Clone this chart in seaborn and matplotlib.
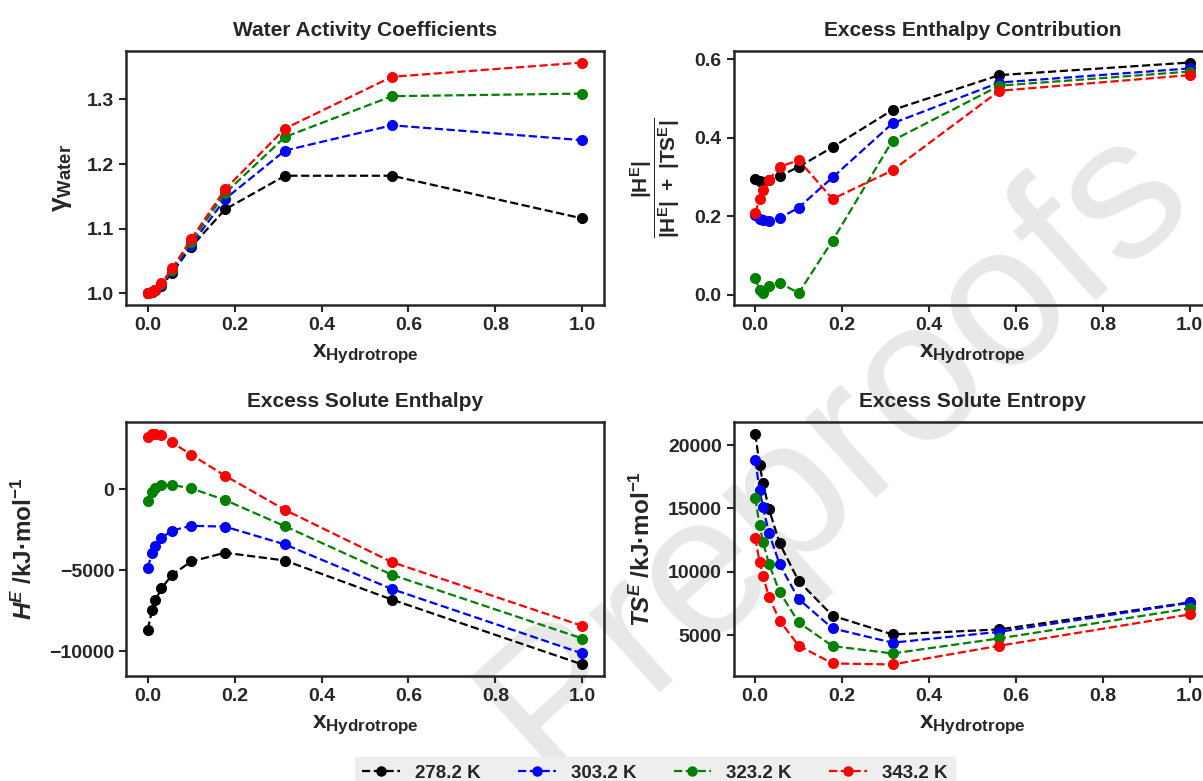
import matplotlib
matplotlib.use("Agg")
import matplotlib.pyplot as plt
from matplotlib.lines import Line2D
import seaborn as sns
import pandas as pd

x_hyd = [0.0, 0.01, 0.0178, 0.0316, 0.0562, 0.1, 0.178, 0.316, 0.562, 1.0]
temps = ["278.2 K", "303.2 K", "323.2 K", "343.2 K"]
colors = ["black", "blue", "green", "red"]

gamma_278 = [1.000, 1.002, 1.005, 1.012, 1.032, 1.072, 1.130, 1.182, 1.182, 1.116]
gamma_303 = [1.000, 1.002, 1.005, 1.013, 1.034, 1.075, 1.146, 1.221, 1.260, 1.237]
gamma_323 = [1.000, 1.003, 1.006, 1.014, 1.036, 1.080, 1.155, 1.242, 1.305, 1.309]
gamma_343 = [1.000, 1.003, 1.006, 1.0155, 1.0386, 1.084, 1.161, 1.255, 1.335, 1.357]

frac_278 = [0.295, 0.289, 0.288, 0.292, 0.302, 0.326, 0.376, 0.471, 0.560, 0.592]
frac_303 = [0.203, 0.193, 0.190, 0.188, 0.195, 0.222, 0.299, 0.437, 0.541, 0.577]
frac_323 = [0.043, 0.011, 0.003, 0.021, 0.030, 0.004, 0.138, 0.393, 0.533, 0.569]
frac_343 = [0.208, 0.244, 0.266, 0.293, 0.326, 0.343, 0.244, 0.317, 0.520, 0.560]

he_278 = [-8650, -7460, -6840, -6110, -5270, -4450, -3910, -4390, -6800, -10800]
he_303 = [-4840, -3930, -3500, -2990, -2540, -2250, -2300, -3400, -6150, -10120]
he_323 = [-720, -180, 80, 250, 270, 60, -660, -2280, -5270, -9200]
he_343 = [3240, 3400, 3440, 3320, 2890, 2130, 840, -1270, -4490, -8420]

tse_278 = [20920, 18470, 17030, 14950, 12240, 9260, 6530, 5050, 5450, 7580]
tse_303 = [18820, 16500, 15080, 13080, 10580, 7840, 5530, 4400, 5260, 7550]
tse_323 = [15840, 13680, 12370, 10610, 8400, 6000, 4130, 3550, 4740, 7110]
tse_343 = [12680, 10790, 9660, 8030, 6130, 4160, 2760, 2680, 4160, 6630]

frac_ticks = [0.0, 0.2, 0.4, 0.6]
he_ticks = [-10000, -5000, 0]
x_ticks = [0.0, 0.2, 0.4, 0.6, 0.8, 1.0]

rows = []
series = {
    "gamma": [gamma_278, gamma_303, gamma_323, gamma_343],
    "frac": [frac_278, frac_303, frac_323, frac_343],
    "he": [he_278, he_303, he_323, he_343],
    "tse": [tse_278, tse_303, tse_323, tse_343],
}
for i, t in enumerate(temps):
    for j, x in enumerate(x_hyd):
        rows.append({"x": x, "T": t,
                     "gamma": series["gamma"][i][j], "frac": series["frac"][i][j],
                     "he": series["he"][i][j], "tse": series["tse"][i][j]})
df = pd.DataFrame(rows)

sns.set_style("ticks")
plt.rcParams["font.family"] = ["Liberation Sans", "DejaVu Sans"]
plt.rcParams["font.weight"] = "bold"
plt.rcParams["axes.titleweight"] = "bold"
plt.rcParams["axes.labelweight"] = "bold"
plt.rcParams["mathtext.fontset"] = "custom"
plt.rcParams["mathtext.rm"] = "Liberation Sans:bold"
plt.rcParams["mathtext.bf"] = "Liberation Sans:bold"
plt.rcParams["mathtext.it"] = "Liberation Sans:italic:bold"
plt.rcParams["mathtext.bfit"] = "Liberation Sans:italic:bold"

W, H = 1203, 781
fig = plt.figure(figsize=(W / 100, H / 100), dpi=100)

# watermark behind everything
fig.text(0.695, 0.425, "Preproofs", rotation=42, fontsize=145, color="#e8e8e8",
         ha="center", va="center", fontweight="normal", zorder=-1)

def box(l, r, t, b):
    return [l / W, 1 - b / H, (r - l) / W, (b - t) / H]

ax1 = fig.add_axes(box(126, 604, 51, 305))
ax2 = fig.add_axes(box(733.5, 1211.5, 51, 305))
ax3 = fig.add_axes(box(126, 604, 422, 676))
ax4 = fig.add_axes(box(733.5, 1211.5, 422, 676))

panels = [
    (ax1, "gamma", "Water Activity Coefficients", r"$\mathbf{\gamma_{Water}}$", 19),
    (ax2, "frac", "Excess Enthalpy Contribution",
     r"$\mathbf{\dfrac{|H^E|}{|H^E|\ +\ |TS^E|}}$", 15),
    (ax3, "he", "Excess Solute Enthalpy", r"$\mathbfit{H^E}$ /kJ·mol$^{\mathbf{-1}}$", 17.5),
    (ax4, "tse", "Excess Solute Entropy", r"$\mathbfit{TS^E}$ /kJ·mol$^{\mathbf{-1}}$", 17.5),
]

for ax, col, title, ylab, yfs in panels:
    ax.set_facecolor("none")
    sns.lineplot(data=df, x="x", y=col, hue="T", palette=colors, ax=ax,
                 marker="o", linestyle="--", linewidth=1.6, markersize=8,
                 markeredgewidth=0, legend=False, errorbar=None)
    ax.set_title(title, fontsize=15, pad=11)
    ax.set_xlabel(r"$\mathbf{x_{Hydrotrope}}$", fontsize=17.5, labelpad=6)
    ax.set_ylabel(ylab, fontsize=yfs, labelpad=9)
    ax.set_xticks(x_ticks)
    ax.tick_params(labelsize=14, width=1.5, length=5, direction="out")
    for s in ax.spines.values():
        s.set_linewidth(1.8)
        s.set_visible(True)

ax2.set_yticks(frac_ticks)
ax3.set_yticks(he_ticks)

handles = [Line2D([], [], color=c, linestyle="--", marker="o", linewidth=1.6,
                  markersize=7.5, markeredgewidth=0) for c in colors]
leg = fig.legend(handles, temps, loc="upper center", ncol=4, fontsize=13.5,
                 bbox_to_anchor=(654.7 / W, 1 - 748 / H), frameon=True,
                 fancybox=False, facecolor="#eeeeee", edgecolor="#eeeeee",
                 framealpha=1)

fig.savefig("out.png", dpi=100)
